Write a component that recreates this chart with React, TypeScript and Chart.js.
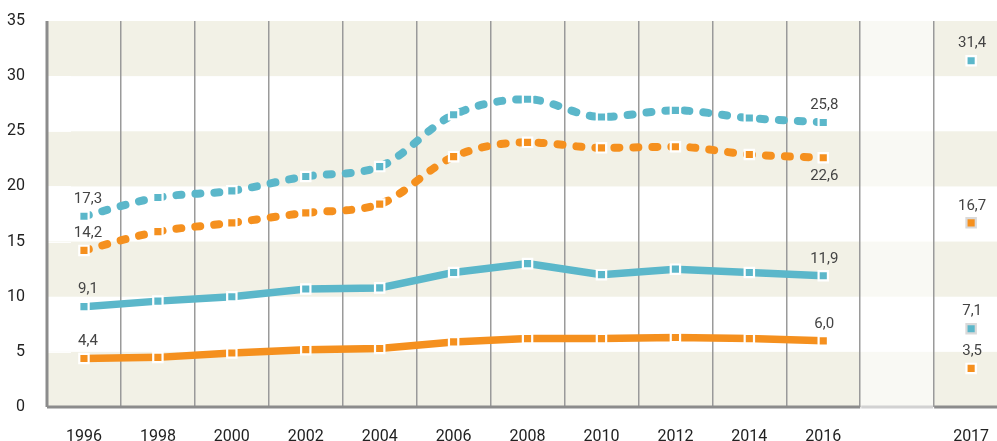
import React, { useEffect, useRef } from "react";
import { Chart, registerables } from "chart.js";

Chart.register(...registerables);

// ---- data ----
const years = [1996, 1998, 2000, 2002, 2004, 2006, 2008, 2010, 2012, 2014, 2016];
const blueDashed = [17.3, 19.0, 19.6, 20.9, 21.8, 26.5, 27.9, 26.3, 26.9, 26.2, 25.8];
const orangeDashed = [14.2, 15.9, 16.7, 17.6, 18.4, 22.7, 24.0, 23.5, 23.6, 22.9, 22.6];
const blueSolid = [9.1, 9.6, 10.0, 10.7, 10.8, 12.2, 13.0, 12.0, 12.5, 12.2, 11.9];
const orangeSolid = [4.4, 4.5, 4.9, 5.2, 5.3, 5.9, 6.2, 6.2, 6.3, 6.2, 6.0];
const latestYear = 2017;
// order: blueDashed, orangeDashed, blueSolid, orangeSolid
const latestValues = [31.4, 16.7, 7.1, 3.5];
const yTicks = [0, 5, 10, 15, 20, 25, 30, 35];

// ---- layout / style constants ----
const GAP_YEARS = 3; // the 2017 column sits after a visual gap
const X_MIN = 1995;
const X_MAX = 2020.7;
const BLUE = "#5bb7ca";
const ORANGE = "#f5901e";
const BEIGE = "#f2f1e6";
const FONT = "Roboto";

const xPos = (year: number) => (year === latestYear ? year + GAP_YEARS : year);
const fmt = (v: number) => v.toFixed(1).replace(".", ",");

const bgPlugin = {
  id: "bgBands",
  beforeDraw(chart: any) {
    const { ctx, chartArea, scales } = chart;
    const y = scales.y;
    const x = scales.x;
    ctx.save();
    for (let i = 0; i < yTicks.length - 1; i++) {
      if (i % 2 !== 0) continue;
      const top = y.getPixelForValue(yTicks[i + 1]);
      const bot = y.getPixelForValue(yTicks[i]);
      ctx.fillStyle = BEIGE;
      ctx.fillRect(chartArea.left, top, chartArea.right - chartArea.left, bot - top);
    }
    // lighter gap region
    const gx0 = x.getPixelForValue(latestYear);
    const gx1 = x.getPixelForValue(latestYear + 2);
    ctx.fillStyle = "rgba(255,255,255,0.55)";
    ctx.fillRect(gx0, chartArea.top, gx1 - gx0, chartArea.bottom - chartArea.top);
    // inner white tick marks
    ctx.strokeStyle = "rgba(255,255,255,0.9)";
    ctx.lineWidth = 1;
    for (const t of yTicks) {
      if (t === 0 || t === 35) continue;
      const py = Math.round(y.getPixelForValue(t)) + 0.5;
      ctx.beginPath();
      ctx.moveTo(chartArea.left + 1, py);
      ctx.lineTo(chartArea.left + 24, py);
      ctx.stroke();
    }
    ctx.restore();
  },
  beforeDatasetsDraw(chart: any) {
    const { ctx, chartArea, scales } = chart;
    const x = scales.x;
    const gx0 = x.getPixelForValue(latestYear);
    const gx1 = x.getPixelForValue(latestYear + 2);
    ctx.save();
    ctx.lineWidth = 3;
    ctx.strokeStyle = "#8c8c8c";
    ctx.beginPath();
    ctx.moveTo(chartArea.left, chartArea.top);
    ctx.lineTo(chartArea.left, chartArea.bottom);
    ctx.stroke();
    ctx.beginPath();
    ctx.moveTo(chartArea.left, chartArea.bottom);
    ctx.lineTo(gx0, chartArea.bottom);
    ctx.moveTo(gx1, chartArea.bottom);
    ctx.lineTo(chartArea.right, chartArea.bottom);
    ctx.stroke();
    ctx.strokeStyle = "#d2d2d2";
    ctx.beginPath();
    ctx.moveTo(gx0 + 1, chartArea.bottom);
    ctx.lineTo(gx1 - 1, chartArea.bottom);
    ctx.stroke();
    ctx.restore();
  },
};

const labelPlugin = {
  id: "valueLabels",
  afterDatasetsDraw(chart: any) {
    const { ctx } = chart;
    ctx.save();
    ctx.font = `15px ${FONT}`;
    ctx.fillStyle = "#444";
    ctx.textAlign = "center";
    ctx.textBaseline = "middle";
    chart.data.datasets.forEach((ds: any, di: number) => {
      const meta = chart.getDatasetMeta(di);
      const spec = ds.labelSpec as { index: number; below?: boolean; dx: number }[] | undefined;
      if (!spec) return;
      for (const s of spec) {
        const el = meta.data[s.index];
        if (!el) continue;
        const v = (ds.data[s.index] as any).y;
        const dy = s.below ? 18 : -17;
        ctx.fillText(fmt(v), el.x + s.dx, el.y + dy);
      }
    });
    ctx.restore();
  },
};

function lineDataset(label: string, values: number[], color: string, dashed: boolean, lastBelow: boolean) {
  return {
    label,
    data: years.map((yr, i) => ({ x: xPos(yr), y: values[i] })),
    borderColor: color,
    backgroundColor: color,
    borderWidth: dashed ? 8 : 7.5,
    borderDash: dashed ? [5, 14] : [],
    borderCapStyle: dashed ? "round" : "butt",
    cubicInterpolationMode: dashed ? "monotone" : "default",
    tension: 0,
    pointStyle: "rect",
    pointRadius: 6.6,
    pointBorderWidth: 2.2,
    pointBorderColor: "#ffffff",
    pointBackgroundColor: color,
    fill: false,
    labelSpec: [
      { index: 0, dx: 4 },
      { index: values.length - 1, dx: 1, below: lastBelow },
    ],
  };
}

function latestDataset(label: string, value: number, color: string, border: string) {
  return {
    label,
    data: [{ x: xPos(latestYear), y: value }],
    showLine: false,
    borderColor: color,
    backgroundColor: color,
    pointStyle: "rect",
    pointRadius: 6.6,
    pointBorderWidth: 2.2,
    pointBorderColor: border,
    pointBackgroundColor: color,
    labelSpec: [{ index: 0, dx: 1 }],
  };
}

export default function App() {
  const canvasRef = useRef<HTMLCanvasElement | null>(null);

  useEffect(() => {
    document.body.style.margin = "0";
    const canvas = canvasRef.current;
    if (!canvas) return;
    const chart = new Chart(canvas, {
      type: "line",
      data: {
        datasets: [
          lineDataset("blueDashed", blueDashed, BLUE, true, false),
          lineDataset("orangeDashed", orangeDashed, ORANGE, true, true),
          lineDataset("blueSolid", blueSolid, BLUE, false, false),
          lineDataset("orangeSolid", orangeSolid, ORANGE, false, false),
          latestDataset("blueDashed2017", latestValues[0], BLUE, "#ffffff"),
          latestDataset("orangeDashed2017", latestValues[1], ORANGE, "#d9d9d9"),
          latestDataset("blueSolid2017", latestValues[2], BLUE, "#d9d9d9"),
          latestDataset("orangeSolid2017", latestValues[3], ORANGE, "#ffffff"),
        ] as any,
      },
      options: {
        animation: false,
        responsive: true,
        maintainAspectRatio: false,
        layout: { autoPadding: false, padding: { top: 21, left: 0, right: 0, bottom: 0 } },
        plugins: {
          legend: { display: false },
          tooltip: { enabled: false },
        },
        scales: {
          x: {
            type: "linear",
            min: X_MIN,
            max: X_MAX,
            afterBuildTicks(scale: any) {
              const t: any[] = [];
              for (let v = 1996; v <= xPos(latestYear); v++) t.push({ value: v });
              scale.ticks = t;
            },
            afterFit(scale: any) {
              scale.height = 34;
              scale.paddingLeft = 0;
              scale.paddingRight = 0;
            },
            grid: {
              drawTicks: false,
              lineWidth: 1.5,
              color: (c: any) => {
                const v = c.tick ? c.tick.value : 0;
                return v % 2 === 1 && v <= latestYear + 2 ? "#9a9a9a" : "rgba(0,0,0,0)";
              },
            },
            border: { display: false },
            ticks: {
              autoSkip: false,
              maxRotation: 0,
              padding: 20,
              color: "#222",
              font: { family: FONT, size: 16 },
              callback: (value: any) => {
                const v = Number(value);
                if (v === xPos(latestYear)) return String(latestYear);
                if (v % 2 === 0 && v <= 2016) return String(v);
                return "";
              },
            },
          },
          y: {
            min: 0,
            max: 35,
            afterBuildTicks(scale: any) {
              scale.ticks = yTicks.map((v) => ({ value: v }));
            },
            afterFit(scale: any) {
              scale.width = 47;
              scale.paddingTop = 0;
              scale.paddingBottom = 0;
            },
            grid: { display: false },
            border: { display: false },
            ticks: {
              padding: 14,
              color: "#222",
              font: { family: FONT, size: 16 },
            },
          },
        },
      } as any,
      plugins: [bgPlugin, labelPlugin],
    });
    return () => chart.destroy();
  }, []);

  return (
    <div style={{ width: 997, height: 441, position: "relative" }}>
      <canvas ref={canvasRef} />
    </div>
  );
}
